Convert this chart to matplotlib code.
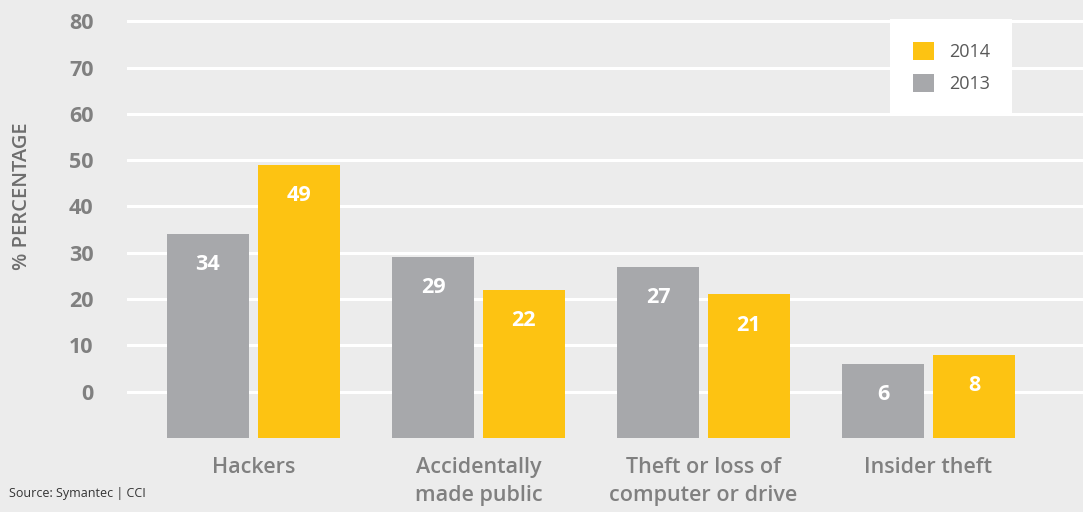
import matplotlib.pyplot as plt
import numpy as np

categories = ["Hackers", "Accidentally\nmade public", "Theft or loss of\ncomputer or drive", "Insider theft"]
values_2013 = [34, 29, 27, 6]
values_2014 = [49, 22, 21, 8]
yticks = [0, 10, 20, 30, 40, 50, 60, 70, 80]

BG = "#ececec"
GRAY = "#a7a8ab"
YELLOW = "#fdc312"
TEXT = "#808080"

plt.rcParams["font.family"] = ["Open Sans", "DejaVu Sans"]

fig = plt.figure(figsize=(10.83, 5.12), dpi=100, facecolor=BG)
# axes: left at x=127px, bottom at y=438px (from top), top at figure top
ax = fig.add_axes([127 / 1083, (512 - 438) / 512, 1 - 127 / 1083, 438 / 512])
ax.set_facecolor(BG)

x = np.arange(len(categories))
width = 0.364
offset = 0.202
base = -10

for yv in yticks:
    ax.axhline(yv, color="white", lw=2.2, zorder=1)

b13 = ax.bar(x - offset, np.array(values_2013) - base, width, bottom=base,
             color=GRAY, zorder=2, label="2013")
b14 = ax.bar(x + offset, np.array(values_2014) - base, width, bottom=base,
             color=YELLOW, zorder=2, label="2014")

for xs, vals in ((x - offset, values_2013), (x + offset, values_2014)):
    for xi, v in zip(xs, vals):
        ax.text(xi, v - 6.6, str(v), ha="center", va="center", color="white",
                fontsize=15.5, fontweight="bold", zorder=3)

ax.set_xlim(-0.562, 3.687)
ax.set_ylim(base, 84.6)
for s in ax.spines.values():
    s.set_visible(False)
ax.set_xticks([])
ax.set_yticks(yticks)
ax.set_yticklabels([str(t) for t in yticks], fontsize=15.5, fontweight="bold", color=TEXT)
ax.tick_params(axis="y", length=0, pad=24)

for xi, lab in zip(x, categories):
    ax.text(xi, base - 4.0, lab, ha="center", va="top", fontsize=15.5,
            fontweight="semibold", color=TEXT, linespacing=1.45)

fig.text(22 / 1083, 1 - 196 / 512, "% PERCENTAGE", rotation=90, ha="center", va="center",
         fontsize=14.5, fontweight="semibold", color="#6e6e6e")
fig.text(9 / 1083, 1 - 493 / 512, "Source: Symantec | CCI", ha="left", va="center",
         fontsize=9, color="#333333")

leg = ax.legend(handles=[b14, b13], loc="upper left", bbox_to_anchor=((890 - 127) / 956, 1 - 19 / 438),
                frameon=True, fancybox=False, framealpha=1, edgecolor="white", facecolor="white",
                fontsize=13, handlelength=1.2, handleheight=1.2, handletextpad=0.8,
                labelspacing=0.7, borderpad=1.25, borderaxespad=0)
leg.get_frame().set_linewidth(0)
for t in leg.get_texts():
    t.set_color("#595959")

fig.savefig("out.png", dpi=100, facecolor=BG)
